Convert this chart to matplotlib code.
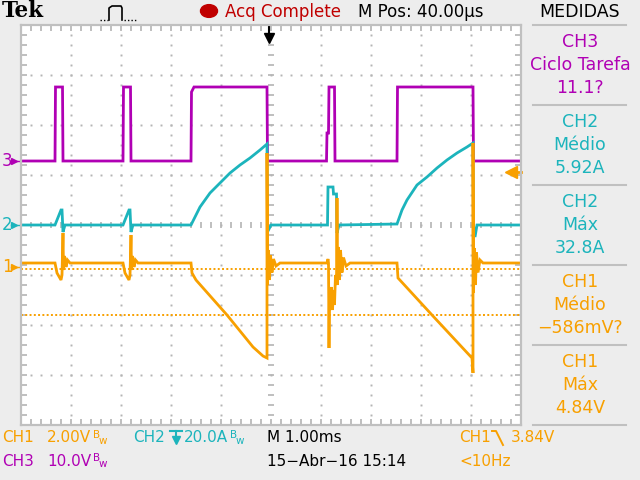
import matplotlib
matplotlib.use('Agg')
import matplotlib.pyplot as plt
from matplotlib.lines import Line2D
from matplotlib.patches import Circle
import numpy as np

# time axis in divisions (1 ms/div), amplitude in divisions (0 = screen centre)
ch3_t = [0, 0.68, 0.69, 0.83, 0.84, 2.04, 2.05, 2.19, 2.20, 3.40, 3.41, 3.46, 4.92, 4.93,
         6.11, 6.12, 6.15, 6.16, 6.27, 6.28, 7.52, 7.53, 9.04, 9.05, 10]
ch3_v = [1.28, 1.28, 2.76, 2.76, 1.28, 1.28, 2.76, 2.76, 1.28, 1.28, 2.66, 2.76, 2.76, 1.28,
         1.28, 1.84, 1.84, 2.76, 2.76, 1.28, 1.28, 2.76, 2.76, 1.28, 1.28]

ch2_t = [0, 0.68, 0.80, 0.82, 0.84, 0.88, 2.04, 2.16, 2.18, 2.20, 2.24,
         3.40, 3.58, 3.78, 3.98, 4.18, 4.38, 4.58, 4.78, 4.92, 4.93, 4.96, 5.00,
         6.13, 6.14, 6.24, 6.25, 6.31, 6.32, 6.36,
         7.52, 7.62, 7.72, 7.92, 8.12, 8.32, 8.52, 8.72, 8.92, 9.04, 9.05, 9.08, 9.12, 10]
ch2_v = [0, 0, 0.30, 0.30, -0.14, 0, 0, 0.30, 0.30, -0.14, 0,
         0, 0.36, 0.64, 0.84, 1.04, 1.20, 1.34, 1.50, 1.62, 0, -0.08, 0,
         0, 0.76, 0.76, 0.62, 0.62, -0.16, 0,
         0.02, 0.30, 0.50, 0.80, 0.96, 1.14, 1.30, 1.44, 1.56, 1.64, 0, -0.24, 0, 0]

ch1_t = [0, 0.68, 0.72, 0.80, 0.82, 0.84, 0.85, 0.87, 0.90, 0.93, 0.98,
         2.04, 2.08, 2.16, 2.18, 2.20, 2.21, 2.23, 2.26, 2.29, 2.34,
         3.40, 3.42, 3.50, 4.12, 4.64, 4.84, 4.92,
         4.92, 4.93, 4.95, 4.97, 4.99, 5.02, 5.05, 5.10, 5.18,
         6.12, 6.14, 6.15, 6.16, 6.17, 6.19, 6.21, 6.23, 6.25, 6.27, 6.29, 6.31,
         6.32, 6.33, 6.35, 6.37, 6.39, 6.42, 6.45, 6.50, 6.58,
         7.52, 7.54, 8.22, 9.02, 9.04, 9.04, 9.05, 9.07, 9.09, 9.11, 9.14, 9.18, 9.24, 10]
ch1_v = [-0.76, -0.76, -0.96, -1.10, -1.00, -0.16, -0.90, -0.62, -0.84, -0.70, -0.76,
         -0.76, -0.96, -1.10, -1.00, -0.20, -0.90, -0.62, -0.84, -0.70, -0.76,
         -0.76, -0.96, -1.10, -1.80, -2.44, -2.62, -2.66,
         1.44, -1.20, -0.50, -1.10, -0.60, -0.95, -0.68, -0.82, -0.76,
         -0.76, -0.68, -0.76, -2.46, -1.30, -1.70, -1.24, -1.70, -1.30, -1.60, -1.00, -1.20,
         0.54, -1.20, -0.44, -1.10, -0.50, -0.95, -0.65, -0.82, -0.76,
         -0.76, -1.06, -1.80, -2.66, -2.96, 1.64, -1.36, -0.46, -1.20, -0.55, -0.95, -0.70, -0.76, -0.76]

cursor_levels = [-0.88, -1.80]

meas_titles = ['CH3', 'CH2', 'CH2', 'CH1', 'CH1']
meas_names = ['Ciclo Tarefa', 'Médio', 'Máx', 'Médio', 'Máx']
meas_values = ['11.1?', '5.92A', '32.8A', '\u2212586mV?', '4.84V']

MAG = '#b000b4'
CYA = '#1cb4bc'
ORG = '#f8a000'
GRID = '#b4b4b4'
BG = '#ededed'
FONT = ['DejaVu Sans']
meas_colors = [MAG, CYA, CYA, ORG, ORG]

fig = plt.figure(figsize=(6.4, 4.8), dpi=100, facecolor=BG)
ax = fig.add_axes([21 / 640, 55 / 480, 500 / 640, 400 / 480])
ax.set_xlim(0, 10)
ax.set_ylim(-4, 4)
ax.set_facecolor('white')
ax.set_xticks([])
ax.set_yticks([])
for s in ax.spines.values():
    s.set_color('#c0c0c0')
    s.set_linewidth(1.6)


def fx(x):
    return x / 640


def fy(y):
    return 1 - y / 480


def ftext(x, y, s, color, size=11, ha='left', **kw):
    fig.text(fx(x), fy(y), s, color=color, fontsize=size, ha=ha, va='center',
             family=kw.pop('family', FONT), **kw)


def fline(xs, ys, color='black', lw=1.0, **kw):
    fig.add_artist(Line2D([fx(v) for v in xs], [fy(v) for v in ys],
                          transform=fig.transFigure, color=color, lw=lw, **kw))


# graticule dots
steps = np.arange(0.2, 10, 0.2)
vsteps = np.arange(-3.8, 4, 0.2)
for gx in range(1, 10):
    if gx == 5:
        continue
    ax.plot([gx] * len(vsteps), vsteps, ls='none', marker='s', ms=1.4, mew=0, color=GRID)
for gy in range(-3, 4):
    if gy == 0:
        continue
    ax.plot(steps, [gy] * len(steps), ls='none', marker='s', ms=1.4, mew=0, color=GRID)

# centre cross ticks
ax.plot([5] * len(vsteps), vsteps, ls='none', marker='_', ms=5, mew=1.2, color=GRID)
ax.plot(steps, [0] * len(steps), ls='none', marker='|', ms=5, mew=1.2, color=GRID)
# border ticks
ax.plot([0] * len(vsteps), vsteps, ls='none', marker='_', ms=8, mew=1.2, color=GRID)
ax.plot([10] * len(vsteps), vsteps, ls='none', marker='_', ms=8, mew=1.2, color=GRID)
ax.plot(steps, [4] * len(steps), ls='none', marker='|', ms=8, mew=1.2, color=GRID)
ax.plot(steps, [-4] * len(steps), ls='none', marker='|', ms=8, mew=1.2, color=GRID)

# cursors
for lv in cursor_levels:
    ax.axhline(lv, color=ORG, lw=1.4, ls=(0, (1, 1.2)))

# traces
ax.plot(ch3_t, ch3_v, color=MAG, lw=2.0, solid_joinstyle='miter')
ax.plot(ch2_t, ch2_v, color=CYA, lw=2.0, solid_joinstyle='miter')
ax.plot(ch1_t, ch1_v, color=ORG, lw=2.0, solid_joinstyle='miter')

# trigger position / level markers
ax.plot([4.96, 4.96], [3.96, 3.8], color='black', lw=1.5, clip_on=False)
ax.plot([4.96], [3.74], marker='v', ms=7, color='black', clip_on=False)
ax.plot([9.82, 10.0], [1.06, 1.06], color=ORG, lw=2, clip_on=False)
ax.plot([9.8], [1.06], marker='<', ms=8, color=ORG, clip_on=False)

# channel ground markers
for lvl, lab, col in [(1.28, '3', MAG), (0, '2', CYA), (-0.84, '1', ORG)]:
    ftext(2, 225 - lvl * 50, lab, col, size=12)
    ax.plot([-0.14], [lvl], marker='>', ms=5, color=col, clip_on=False)
    ax.plot([-0.2, -0.02], [lvl, lvl], color=col, lw=1, clip_on=False)

# header
ftext(2, 11, 'Tek', 'black', size=15.5, family='DejaVu Serif', weight='bold')
fline([100, 108], [20, 20], lw=1, ls=(0, (1, 1.5)))
fline([109, 109, 112, 121, 122, 122], [20, 8, 6, 6, 8, 20], lw=1.2)
fline([124, 137], [20, 20], lw=1, ls=(0, (1, 1.5)))
fig.add_artist(Circle((fx(209), fy(11)), 8.5 / 640, transform=fig.transFigure, color='#c00000'))
ftext(225, 12, 'Acq Complete', '#c00000', size=12)
ftext(358, 12, 'M Pos: 40.00\u00b5s', 'black', size=12)
ftext(580, 12, 'MEDIDAS', 'black', size=12.5, ha='center')

# measurement panel
for i in range(6):
    fline([533, 626], [25 + 80 * i, 25 + 80 * i], color='#c0c0c0', lw=1.5)
for i in range(5):
    y0 = 42 + 80 * i
    ftext(580, y0, meas_titles[i], meas_colors[i], size=12.5, ha='center')
    ftext(580, y0 + 23, meas_names[i], meas_colors[i], size=12.5, ha='center')
    ftext(580, y0 + 46, meas_values[i], meas_colors[i], size=12.5, ha='center')

# footer
r1, r2 = 438, 461
ftext(2, r1, 'CH1', ORG)
ftext(47, r1, '2.00V', ORG)
ftext(93, r1 - 3, 'B', ORG, size=7.5)
ftext(99, r1 + 3, 'w', ORG, size=7.5)
ftext(133, r1, 'CH2', CYA)
fline([176, 176], [431, 437], color=CYA, lw=1.5)
fline([170, 182], [431, 431], color=CYA, lw=1.5)
fig.add_artist(Line2D([fx(176)], [fy(440)], transform=fig.transFigure, marker='v', ms=6, color=CYA))
ftext(184, r1, '20.0A', CYA)
ftext(230, r1 - 3, 'B', CYA, size=7.5)
ftext(236, r1 + 3, 'w', CYA, size=7.5)
ftext(267, r1, 'M 1.00ms', 'black')
ftext(459, r1, 'CH1', ORG)
fline([492, 496, 503], [431, 431, 445], color=ORG, lw=1.4)
ftext(511, r1, '3.84V', ORG)
ftext(2, r2, 'CH3', MAG)
ftext(47, r2, '10.0V', MAG)
ftext(93, r2 - 3, 'B', MAG, size=7.5)
ftext(99, r2 + 3, 'w', MAG, size=7.5)
ftext(267, r2, '15\u2212Abr\u221216 15:14', 'black')
ftext(459, r2, '<10Hz', ORG)

fig.savefig('out.png', dpi=100, facecolor=BG)
